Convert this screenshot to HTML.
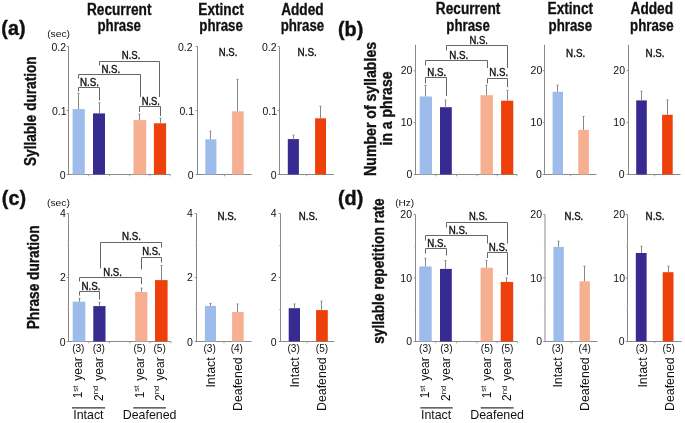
<!DOCTYPE html>
<html><head><meta charset="utf-8"><style>
html,body{margin:0;padding:0;background:#fff;}
svg{display:block;will-change:transform;}
text{font-family:"Liberation Sans",sans-serif;fill:#111;}
.ns{stroke:#111;stroke-width:0.38px;}
.tt{stroke:#111;stroke-width:0.3px;}
.yt{stroke:#111;stroke-width:0.35px;}
.pl{stroke:#111;stroke-width:0.4px;}
</style></head><body>
<svg width="685" height="423" viewBox="0 0 685 423">
<rect width="685" height="423" fill="#fff"/>
<text x="1.3" y="34.5" font-size="19.8" font-weight="bold" text-anchor="start" class="pl">(a)</text>
<text x="47.2" y="37" font-size="9.5" font-weight="normal" text-anchor="start" textLength="22.8" lengthAdjust="spacingAndGlyphs">(sec)</text>
<text x="36.1" y="111.2" font-size="16.5" font-weight="bold" text-anchor="middle" textLength="109.5" lengthAdjust="spacingAndGlyphs" transform="rotate(-90 36.1 111.2)" class="yt">Syllable duration</text>
<text x="119.2" y="14.5" font-size="15.6" font-weight="bold" text-anchor="middle" textLength="64.5" lengthAdjust="spacingAndGlyphs" class="tt">Recurrent</text>
<text x="119.2" y="30.900000000000002" font-size="15.6" font-weight="bold" text-anchor="middle" textLength="43.5" lengthAdjust="spacingAndGlyphs" class="tt">phrase</text>
<text x="221.1" y="14.5" font-size="15.6" font-weight="bold" text-anchor="middle" textLength="45.5" lengthAdjust="spacingAndGlyphs" class="tt">Extinct</text>
<text x="221.1" y="30.900000000000002" font-size="15.6" font-weight="bold" text-anchor="middle" textLength="43.5" lengthAdjust="spacingAndGlyphs" class="tt">phrase</text>
<text x="302.4" y="14.5" font-size="15.6" font-weight="bold" text-anchor="middle" textLength="42.5" lengthAdjust="spacingAndGlyphs" class="tt">Added</text>
<text x="302.4" y="30.900000000000002" font-size="15.6" font-weight="bold" text-anchor="middle" textLength="43.5" lengthAdjust="spacingAndGlyphs" class="tt">phrase</text>
<text x="468.1" y="14.2" font-size="15.6" font-weight="bold" text-anchor="middle" textLength="64.5" lengthAdjust="spacingAndGlyphs" class="tt">Recurrent</text>
<text x="468.1" y="30.6" font-size="15.6" font-weight="bold" text-anchor="middle" textLength="43.5" lengthAdjust="spacingAndGlyphs" class="tt">phrase</text>
<text x="570.3" y="14.2" font-size="15.6" font-weight="bold" text-anchor="middle" textLength="45.5" lengthAdjust="spacingAndGlyphs" class="tt">Extinct</text>
<text x="570.3" y="30.6" font-size="15.6" font-weight="bold" text-anchor="middle" textLength="43.5" lengthAdjust="spacingAndGlyphs" class="tt">phrase</text>
<text x="651.8" y="14.2" font-size="15.6" font-weight="bold" text-anchor="middle" textLength="42.5" lengthAdjust="spacingAndGlyphs" class="tt">Added</text>
<text x="651.8" y="30.6" font-size="15.6" font-weight="bold" text-anchor="middle" textLength="43.5" lengthAdjust="spacingAndGlyphs" class="tt">phrase</text>
<line x1="68.5" y1="46.5" x2="68.5" y2="175.0" stroke="#8a8a8a" stroke-width="1"/>
<line x1="68.0" y1="174.5" x2="170.5" y2="174.5" stroke="#8a8a8a" stroke-width="1"/>
<line x1="66.7" y1="46.5" x2="68.5" y2="46.5" stroke="#8a8a8a" stroke-width="1"/>
<line x1="66.7" y1="110.5" x2="68.5" y2="110.5" stroke="#8a8a8a" stroke-width="1"/>
<line x1="66.7" y1="174.5" x2="68.5" y2="174.5" stroke="#8a8a8a" stroke-width="1"/>
<line x1="88.8" y1="174.5" x2="88.8" y2="176.3" stroke="#a0a0a0" stroke-width="1"/>
<line x1="109.5" y1="174.5" x2="109.5" y2="176.3" stroke="#a0a0a0" stroke-width="1"/>
<line x1="129.8" y1="174.5" x2="129.8" y2="176.3" stroke="#a0a0a0" stroke-width="1"/>
<line x1="150" y1="174.5" x2="150" y2="176.3" stroke="#a0a0a0" stroke-width="1"/>
<line x1="170" y1="174.5" x2="170" y2="176.3" stroke="#a0a0a0" stroke-width="1"/>
<text x="66" y="50.9" font-size="10.5" font-weight="normal" text-anchor="end">0.2</text>
<text x="66.5" y="114.9" font-size="10.5" font-weight="normal" text-anchor="end">0.1</text>
<text x="65.5" y="178.9" font-size="10.5" font-weight="normal" text-anchor="end">0</text>
<rect x="72.6" y="109.1" width="12.20" height="65.40" fill="#9dbcec"/>
<line x1="78.5" y1="93.6" x2="78.5" y2="109.1" stroke="#888888" stroke-width="1"/>
<line x1="77.5" y1="93.6" x2="79.5" y2="93.6" stroke="#888888" stroke-width="1"/>
<rect x="93" y="113.4" width="12.00" height="61.10" fill="#372b91"/>
<line x1="99.5" y1="102.8" x2="99.5" y2="113.4" stroke="#888888" stroke-width="1"/>
<line x1="98.5" y1="102.8" x2="100.5" y2="102.8" stroke="#888888" stroke-width="1"/>
<rect x="133.5" y="120.1" width="12.70" height="54.40" fill="#f6af90"/>
<line x1="139.5" y1="114.1" x2="139.5" y2="120.1" stroke="#888888" stroke-width="1"/>
<line x1="138.5" y1="114.1" x2="140.5" y2="114.1" stroke="#888888" stroke-width="1"/>
<rect x="153.9" y="123.3" width="12.20" height="51.20" fill="#ee400a"/>
<line x1="160.5" y1="118.1" x2="160.5" y2="123.3" stroke="#888888" stroke-width="1"/>
<line x1="159.5" y1="118.1" x2="161.5" y2="118.1" stroke="#888888" stroke-width="1"/>
<polyline points="78.5,91.5 78.5,87.5 99.5,87.5 99.5,100.5" fill="none" stroke="#666666" stroke-width="1"/>
<polyline points="139.5,112 139.5,106.5 160.5,106.5 160.5,116" fill="none" stroke="#666666" stroke-width="1"/>
<polyline points="78.5,78.5 78.5,74.5 140.5,74.5 140.5,97" fill="none" stroke="#666666" stroke-width="1"/>
<polyline points="99.5,65.5 99.5,61.5 159.5,61.5 159.5,97" fill="none" stroke="#666666" stroke-width="1"/>
<text x="80.10000000000001" y="86" font-size="10.6" font-weight="normal" text-anchor="start" textLength="18.9" lengthAdjust="spacingAndGlyphs" class="ns">N.S.</text>
<text x="101.4" y="72.6" font-size="10.6" font-weight="normal" text-anchor="start" textLength="18.8" lengthAdjust="spacingAndGlyphs" class="ns">N.S.</text>
<text x="121.80000000000001" y="59" font-size="10.6" font-weight="normal" text-anchor="start" textLength="18.6" lengthAdjust="spacingAndGlyphs" class="ns">N.S.</text>
<text x="141.70000000000002" y="105.4" font-size="10.6" font-weight="normal" text-anchor="start" textLength="18.2" lengthAdjust="spacingAndGlyphs" class="ns">N.S.</text>
<line x1="197.5" y1="46.5" x2="197.5" y2="175.0" stroke="#8a8a8a" stroke-width="1"/>
<line x1="197.0" y1="174.5" x2="251.5" y2="174.5" stroke="#8a8a8a" stroke-width="1"/>
<line x1="195.7" y1="46.5" x2="197.5" y2="46.5" stroke="#8a8a8a" stroke-width="1"/>
<line x1="195.7" y1="110.5" x2="197.5" y2="110.5" stroke="#8a8a8a" stroke-width="1"/>
<line x1="195.7" y1="174.5" x2="197.5" y2="174.5" stroke="#8a8a8a" stroke-width="1"/>
<line x1="224.5" y1="174.5" x2="224.5" y2="176.3" stroke="#a0a0a0" stroke-width="1"/>
<text x="192.5" y="50.9" font-size="10.5" font-weight="normal" text-anchor="end">0.2</text>
<text x="194" y="114.9" font-size="10.5" font-weight="normal" text-anchor="end">0.1</text>
<text x="193.5" y="178.9" font-size="10.5" font-weight="normal" text-anchor="end">0</text>
<rect x="205.3" y="139.3" width="11.10" height="35.20" fill="#9dbcec"/>
<line x1="210.5" y1="131.2" x2="210.5" y2="139.3" stroke="#888888" stroke-width="1"/>
<line x1="209.5" y1="131.2" x2="211.5" y2="131.2" stroke="#888888" stroke-width="1"/>
<rect x="232.1" y="111.3" width="11.60" height="63.20" fill="#f6af90"/>
<line x1="237.5" y1="79.4" x2="237.5" y2="111.3" stroke="#888888" stroke-width="1"/>
<line x1="236.5" y1="79.4" x2="238.5" y2="79.4" stroke="#888888" stroke-width="1"/>
<text x="218.8" y="56" font-size="10.6" font-weight="normal" text-anchor="start" textLength="18.5" lengthAdjust="spacingAndGlyphs" class="ns">N.S.</text>
<line x1="279.5" y1="46.5" x2="279.5" y2="175.0" stroke="#8a8a8a" stroke-width="1"/>
<line x1="279.0" y1="174.5" x2="334" y2="174.5" stroke="#8a8a8a" stroke-width="1"/>
<line x1="277.7" y1="46.5" x2="279.5" y2="46.5" stroke="#8a8a8a" stroke-width="1"/>
<line x1="277.7" y1="110.5" x2="279.5" y2="110.5" stroke="#8a8a8a" stroke-width="1"/>
<line x1="277.7" y1="174.5" x2="279.5" y2="174.5" stroke="#8a8a8a" stroke-width="1"/>
<line x1="306.5" y1="174.5" x2="306.5" y2="176.3" stroke="#a0a0a0" stroke-width="1"/>
<text x="276.5" y="50.9" font-size="10.5" font-weight="normal" text-anchor="end">0.2</text>
<text x="277" y="114.9" font-size="10.5" font-weight="normal" text-anchor="end">0.1</text>
<text x="276.5" y="178.9" font-size="10.5" font-weight="normal" text-anchor="end">0</text>
<rect x="287.8" y="139.1" width="11.10" height="35.40" fill="#372b91"/>
<line x1="293.5" y1="135.1" x2="293.5" y2="139.1" stroke="#888888" stroke-width="1"/>
<line x1="292.5" y1="135.1" x2="294.5" y2="135.1" stroke="#888888" stroke-width="1"/>
<rect x="315.1" y="118.3" width="10.90" height="56.20" fill="#ee400a"/>
<line x1="320.5" y1="106.3" x2="320.5" y2="118.3" stroke="#888888" stroke-width="1"/>
<line x1="319.5" y1="106.3" x2="321.5" y2="106.3" stroke="#888888" stroke-width="1"/>
<text x="297.59999999999997" y="56" font-size="10.6" font-weight="normal" text-anchor="start" textLength="19.2" lengthAdjust="spacingAndGlyphs" class="ns">N.S.</text>
<text x="338" y="35.7" font-size="19.8" font-weight="bold" text-anchor="start" class="pl">(b)</text>
<text x="375.8" y="108.9" font-size="16.5" font-weight="bold" text-anchor="middle" textLength="134" lengthAdjust="spacingAndGlyphs" transform="rotate(-90 375.8 108.9)" class="yt">Number of syllables</text>
<text x="392.2" y="108.5" font-size="16.5" font-weight="bold" text-anchor="middle" textLength="74" lengthAdjust="spacingAndGlyphs" transform="rotate(-90 392.2 108.5)" class="yt">in a phrase</text>
<line x1="415.5" y1="44.8" x2="415.5" y2="175.0" stroke="#8a8a8a" stroke-width="1"/>
<line x1="415.0" y1="174.5" x2="517" y2="174.5" stroke="#8a8a8a" stroke-width="1"/>
<line x1="413.7" y1="174.5" x2="415.5" y2="174.5" stroke="#8a8a8a" stroke-width="1"/>
<line x1="413.7" y1="122.6" x2="415.5" y2="122.6" stroke="#8a8a8a" stroke-width="1"/>
<line x1="413.7" y1="70.7" x2="415.5" y2="70.7" stroke="#8a8a8a" stroke-width="1"/>
<line x1="435.7" y1="174.5" x2="435.7" y2="176.3" stroke="#a0a0a0" stroke-width="1"/>
<line x1="456.5" y1="174.5" x2="456.5" y2="176.3" stroke="#a0a0a0" stroke-width="1"/>
<line x1="476.8" y1="174.5" x2="476.8" y2="176.3" stroke="#a0a0a0" stroke-width="1"/>
<line x1="497.2" y1="174.5" x2="497.2" y2="176.3" stroke="#a0a0a0" stroke-width="1"/>
<line x1="517" y1="174.5" x2="517" y2="176.3" stroke="#a0a0a0" stroke-width="1"/>
<text x="412.4" y="73.8" font-size="10.5" font-weight="normal" text-anchor="end">20</text>
<text x="412.4" y="126.0" font-size="10.5" font-weight="normal" text-anchor="end">10</text>
<text x="412.4" y="178.1" font-size="10.5" font-weight="normal" text-anchor="end">0</text>
<rect x="419.7" y="96.5" width="12.30" height="78.00" fill="#9dbcec"/>
<line x1="425.5" y1="85.5" x2="425.5" y2="96.5" stroke="#888888" stroke-width="1"/>
<line x1="424.5" y1="85.5" x2="426.5" y2="85.5" stroke="#888888" stroke-width="1"/>
<rect x="440" y="107.2" width="11.80" height="67.30" fill="#372b91"/>
<line x1="445.5" y1="100.1" x2="445.5" y2="107.2" stroke="#888888" stroke-width="1"/>
<line x1="444.5" y1="100.1" x2="446.5" y2="100.1" stroke="#888888" stroke-width="1"/>
<rect x="480.5" y="95.2" width="12.40" height="79.30" fill="#f6af90"/>
<line x1="486.5" y1="85.3" x2="486.5" y2="95.2" stroke="#888888" stroke-width="1"/>
<line x1="485.5" y1="85.3" x2="487.5" y2="85.3" stroke="#888888" stroke-width="1"/>
<rect x="501.1" y="100.7" width="12.20" height="73.80" fill="#ee400a"/>
<line x1="507.5" y1="90.4" x2="507.5" y2="100.7" stroke="#888888" stroke-width="1"/>
<line x1="506.5" y1="90.4" x2="508.5" y2="90.4" stroke="#888888" stroke-width="1"/>
<polyline points="425.5,83.5 425.5,77.5 446.5,77.5 446.5,96" fill="none" stroke="#666666" stroke-width="1"/>
<polyline points="487.5,83.5 487.5,78.5 507.5,78.5 507.5,87.2" fill="none" stroke="#666666" stroke-width="1"/>
<polyline points="425.5,65.5 425.5,60.5 487.5,60.5 487.5,68" fill="none" stroke="#666666" stroke-width="1"/>
<polyline points="446.5,50.5 446.5,45.5 507.5,45.5 507.5,68" fill="none" stroke="#666666" stroke-width="1"/>
<text x="427.2" y="75.8" font-size="10.6" font-weight="normal" text-anchor="start" textLength="18.9" lengthAdjust="spacingAndGlyphs" class="ns">N.S.</text>
<text x="449.2" y="59" font-size="10.6" font-weight="normal" text-anchor="start" textLength="19.0" lengthAdjust="spacingAndGlyphs" class="ns">N.S.</text>
<text x="469.5" y="44.1" font-size="10.6" font-weight="normal" text-anchor="start" textLength="18.4" lengthAdjust="spacingAndGlyphs" class="ns">N.S.</text>
<text x="489.29999999999995" y="76.3" font-size="10.6" font-weight="normal" text-anchor="start" textLength="18.9" lengthAdjust="spacingAndGlyphs" class="ns">N.S.</text>
<line x1="544.5" y1="44.8" x2="544.5" y2="175.0" stroke="#8a8a8a" stroke-width="1"/>
<line x1="544.0" y1="174.5" x2="596.5" y2="174.5" stroke="#8a8a8a" stroke-width="1"/>
<line x1="542.7" y1="174.5" x2="544.5" y2="174.5" stroke="#8a8a8a" stroke-width="1"/>
<line x1="542.7" y1="122.6" x2="544.5" y2="122.6" stroke="#8a8a8a" stroke-width="1"/>
<line x1="542.7" y1="70.7" x2="544.5" y2="70.7" stroke="#8a8a8a" stroke-width="1"/>
<line x1="570.5" y1="174.5" x2="570.5" y2="176.3" stroke="#a0a0a0" stroke-width="1"/>
<text x="542.3" y="73.8" font-size="10.5" font-weight="normal" text-anchor="end">20</text>
<text x="542.3" y="126.0" font-size="10.5" font-weight="normal" text-anchor="end">10</text>
<text x="541.8" y="178.1" font-size="10.5" font-weight="normal" text-anchor="end">0</text>
<rect x="552.6" y="91.8" width="10.40" height="82.70" fill="#9dbcec"/>
<line x1="557.5" y1="85.2" x2="557.5" y2="91.8" stroke="#888888" stroke-width="1"/>
<line x1="556.5" y1="85.2" x2="558.5" y2="85.2" stroke="#888888" stroke-width="1"/>
<rect x="578.3" y="129.9" width="10.60" height="44.60" fill="#f6af90"/>
<line x1="583.5" y1="116.5" x2="583.5" y2="129.9" stroke="#888888" stroke-width="1"/>
<line x1="582.5" y1="116.5" x2="584.5" y2="116.5" stroke="#888888" stroke-width="1"/>
<text x="566.1" y="57.4" font-size="10.6" font-weight="normal" text-anchor="start" textLength="19.1" lengthAdjust="spacingAndGlyphs" class="ns">N.S.</text>
<line x1="628.5" y1="44.8" x2="628.5" y2="175.0" stroke="#8a8a8a" stroke-width="1"/>
<line x1="628.0" y1="174.5" x2="680.5" y2="174.5" stroke="#8a8a8a" stroke-width="1"/>
<line x1="626.7" y1="174.5" x2="628.5" y2="174.5" stroke="#8a8a8a" stroke-width="1"/>
<line x1="626.7" y1="122.6" x2="628.5" y2="122.6" stroke="#8a8a8a" stroke-width="1"/>
<line x1="626.7" y1="70.7" x2="628.5" y2="70.7" stroke="#8a8a8a" stroke-width="1"/>
<line x1="654.5" y1="174.5" x2="654.5" y2="176.3" stroke="#a0a0a0" stroke-width="1"/>
<text x="625" y="73.8" font-size="10.5" font-weight="normal" text-anchor="end">20</text>
<text x="625" y="126.0" font-size="10.5" font-weight="normal" text-anchor="end">10</text>
<text x="624.5" y="178.1" font-size="10.5" font-weight="normal" text-anchor="end">0</text>
<rect x="636.2" y="100.4" width="10.60" height="74.10" fill="#372b91"/>
<line x1="641.5" y1="91.1" x2="641.5" y2="100.4" stroke="#888888" stroke-width="1"/>
<line x1="640.5" y1="91.1" x2="642.5" y2="91.1" stroke="#888888" stroke-width="1"/>
<rect x="662.1" y="114.8" width="10.60" height="59.70" fill="#ee400a"/>
<line x1="667.5" y1="100" x2="667.5" y2="114.8" stroke="#888888" stroke-width="1"/>
<line x1="666.5" y1="100" x2="668.5" y2="100" stroke="#888888" stroke-width="1"/>
<text x="645.6" y="57.4" font-size="10.6" font-weight="normal" text-anchor="start" textLength="19.0" lengthAdjust="spacingAndGlyphs" class="ns">N.S.</text>
<text x="1.8" y="205" font-size="19.8" font-weight="bold" text-anchor="start" class="pl">(c)</text>
<text x="47" y="205.9" font-size="9.5" font-weight="normal" text-anchor="start" textLength="23" lengthAdjust="spacingAndGlyphs">(sec)</text>
<text x="38.6" y="277.3" font-size="16.5" font-weight="bold" text-anchor="middle" textLength="104" lengthAdjust="spacingAndGlyphs" transform="rotate(-90 38.6 277.3)" class="yt">Phrase duration</text>
<line x1="68.5" y1="213.5" x2="68.5" y2="342.0" stroke="#8a8a8a" stroke-width="1"/>
<line x1="68.0" y1="341.5" x2="171" y2="341.5" stroke="#8a8a8a" stroke-width="1"/>
<line x1="66.7" y1="213.5" x2="68.5" y2="213.5" stroke="#8a8a8a" stroke-width="1"/>
<line x1="66.7" y1="277.5" x2="68.5" y2="277.5" stroke="#8a8a8a" stroke-width="1"/>
<line x1="66.7" y1="341.5" x2="68.5" y2="341.5" stroke="#8a8a8a" stroke-width="1"/>
<line x1="67.3" y1="245.5" x2="68.5" y2="245.5" stroke="#b0b0b0" stroke-width="1"/>
<line x1="67.3" y1="309.5" x2="68.5" y2="309.5" stroke="#b0b0b0" stroke-width="1"/>
<line x1="88.8" y1="341.5" x2="88.8" y2="343.3" stroke="#a0a0a0" stroke-width="1"/>
<line x1="109.5" y1="341.5" x2="109.5" y2="343.3" stroke="#a0a0a0" stroke-width="1"/>
<line x1="129.8" y1="341.5" x2="129.8" y2="343.3" stroke="#a0a0a0" stroke-width="1"/>
<line x1="150" y1="341.5" x2="150" y2="343.3" stroke="#a0a0a0" stroke-width="1"/>
<line x1="171" y1="341.5" x2="171" y2="343.3" stroke="#a0a0a0" stroke-width="1"/>
<text x="65.8" y="217.4" font-size="10.5" font-weight="normal" text-anchor="end">4</text>
<text x="65.8" y="281.1" font-size="10.5" font-weight="normal" text-anchor="end">2</text>
<text x="65.5" y="345.5" font-size="10.5" font-weight="normal" text-anchor="end">0</text>
<rect x="72.7" y="301.7" width="12.60" height="39.80" fill="#9dbcec"/>
<line x1="79.5" y1="298.3" x2="79.5" y2="301.7" stroke="#888888" stroke-width="1"/>
<line x1="78.5" y1="298.3" x2="80.5" y2="298.3" stroke="#888888" stroke-width="1"/>
<rect x="93.3" y="306.1" width="12.20" height="35.40" fill="#372b91"/>
<line x1="99.5" y1="302.3" x2="99.5" y2="306.1" stroke="#888888" stroke-width="1"/>
<line x1="98.5" y1="302.3" x2="100.5" y2="302.3" stroke="#888888" stroke-width="1"/>
<rect x="135.2" y="291.9" width="12.20" height="49.60" fill="#f6af90"/>
<line x1="141.5" y1="288.1" x2="141.5" y2="291.9" stroke="#888888" stroke-width="1"/>
<line x1="140.5" y1="288.1" x2="142.5" y2="288.1" stroke="#888888" stroke-width="1"/>
<rect x="155" y="280.1" width="12.60" height="61.40" fill="#ee400a"/>
<line x1="161.5" y1="265.5" x2="161.5" y2="280.1" stroke="#888888" stroke-width="1"/>
<line x1="160.5" y1="265.5" x2="162.5" y2="265.5" stroke="#888888" stroke-width="1"/>
<polyline points="79.5,295.5 79.5,291.5 99.5,291.5 99.5,299.5" fill="none" stroke="#666666" stroke-width="1"/>
<polyline points="141.5,269.5 141.5,257.5 161.5,257.5 161.5,262.5" fill="none" stroke="#666666" stroke-width="1"/>
<polyline points="79.5,281.5 79.5,277.5 141.5,277.5 141.5,284" fill="none" stroke="#666666" stroke-width="1"/>
<polyline points="100.5,268.5 100.5,242.5 161.5,242.5 161.5,247.5" fill="none" stroke="#666666" stroke-width="1"/>
<text x="81.4" y="289.5" font-size="10.6" font-weight="normal" text-anchor="start" textLength="19.0" lengthAdjust="spacingAndGlyphs" class="ns">N.S.</text>
<text x="103.30000000000001" y="276.3" font-size="10.6" font-weight="normal" text-anchor="start" textLength="18.6" lengthAdjust="spacingAndGlyphs" class="ns">N.S.</text>
<text x="122.0" y="240.4" font-size="10.6" font-weight="normal" text-anchor="start" textLength="18.9" lengthAdjust="spacingAndGlyphs" class="ns">N.S.</text>
<text x="142.20000000000002" y="254.8" font-size="10.6" font-weight="normal" text-anchor="start" textLength="18.4" lengthAdjust="spacingAndGlyphs" class="ns">N.S.</text>
<line x1="196.5" y1="213.5" x2="196.5" y2="342.0" stroke="#8a8a8a" stroke-width="1"/>
<line x1="196.0" y1="341.5" x2="251.5" y2="341.5" stroke="#8a8a8a" stroke-width="1"/>
<line x1="194.7" y1="213.5" x2="196.5" y2="213.5" stroke="#8a8a8a" stroke-width="1"/>
<line x1="194.7" y1="277.5" x2="196.5" y2="277.5" stroke="#8a8a8a" stroke-width="1"/>
<line x1="194.7" y1="341.5" x2="196.5" y2="341.5" stroke="#8a8a8a" stroke-width="1"/>
<line x1="195.3" y1="245.5" x2="196.5" y2="245.5" stroke="#b0b0b0" stroke-width="1"/>
<line x1="195.3" y1="309.5" x2="196.5" y2="309.5" stroke="#b0b0b0" stroke-width="1"/>
<line x1="224" y1="341.5" x2="224" y2="343.3" stroke="#a0a0a0" stroke-width="1"/>
<text x="192.8" y="217.4" font-size="10.5" font-weight="normal" text-anchor="end">4</text>
<text x="192.8" y="281.1" font-size="10.5" font-weight="normal" text-anchor="end">2</text>
<text x="192.8" y="345.5" font-size="10.5" font-weight="normal" text-anchor="end">0</text>
<rect x="204.9" y="305.9" width="11.10" height="35.60" fill="#9dbcec"/>
<line x1="210.5" y1="303.5" x2="210.5" y2="305.9" stroke="#888888" stroke-width="1"/>
<line x1="209.5" y1="303.5" x2="211.5" y2="303.5" stroke="#888888" stroke-width="1"/>
<rect x="232.1" y="312" width="11.60" height="29.50" fill="#f6af90"/>
<line x1="237.5" y1="304" x2="237.5" y2="312" stroke="#888888" stroke-width="1"/>
<line x1="236.5" y1="304" x2="238.5" y2="304" stroke="#888888" stroke-width="1"/>
<text x="217.5" y="219.9" font-size="10.6" font-weight="normal" text-anchor="start" textLength="19.0" lengthAdjust="spacingAndGlyphs" class="ns">N.S.</text>
<line x1="280.5" y1="213.5" x2="280.5" y2="342.0" stroke="#8a8a8a" stroke-width="1"/>
<line x1="280.0" y1="341.5" x2="334.5" y2="341.5" stroke="#8a8a8a" stroke-width="1"/>
<line x1="278.7" y1="213.5" x2="280.5" y2="213.5" stroke="#8a8a8a" stroke-width="1"/>
<line x1="278.7" y1="277.5" x2="280.5" y2="277.5" stroke="#8a8a8a" stroke-width="1"/>
<line x1="278.7" y1="341.5" x2="280.5" y2="341.5" stroke="#8a8a8a" stroke-width="1"/>
<line x1="279.3" y1="245.5" x2="280.5" y2="245.5" stroke="#b0b0b0" stroke-width="1"/>
<line x1="279.3" y1="309.5" x2="280.5" y2="309.5" stroke="#b0b0b0" stroke-width="1"/>
<line x1="307" y1="341.5" x2="307" y2="343.3" stroke="#a0a0a0" stroke-width="1"/>
<text x="276.6" y="217.4" font-size="10.5" font-weight="normal" text-anchor="end">4</text>
<text x="276.6" y="281.1" font-size="10.5" font-weight="normal" text-anchor="end">2</text>
<text x="276.6" y="345.5" font-size="10.5" font-weight="normal" text-anchor="end">0</text>
<rect x="288.7" y="308.2" width="11.30" height="33.30" fill="#372b91"/>
<line x1="294.5" y1="304" x2="294.5" y2="308.2" stroke="#888888" stroke-width="1"/>
<line x1="293.5" y1="304" x2="295.5" y2="304" stroke="#888888" stroke-width="1"/>
<rect x="316.1" y="310.1" width="11.70" height="31.40" fill="#ee400a"/>
<line x1="321.5" y1="301.2" x2="321.5" y2="310.1" stroke="#888888" stroke-width="1"/>
<line x1="320.5" y1="301.2" x2="322.5" y2="301.2" stroke="#888888" stroke-width="1"/>
<text x="298.79999999999995" y="219.9" font-size="10.6" font-weight="normal" text-anchor="start" textLength="18.8" lengthAdjust="spacingAndGlyphs" class="ns">N.S.</text>
<text x="338" y="205.4" font-size="19.8" font-weight="bold" text-anchor="start" class="pl">(d)</text>
<text x="395.2" y="205.6" font-size="9.5" font-weight="normal" text-anchor="start" textLength="19" lengthAdjust="spacingAndGlyphs">(Hz)</text>
<text x="384.4" y="271" font-size="16" font-weight="bold" text-anchor="middle" textLength="145.5" lengthAdjust="spacingAndGlyphs" transform="rotate(-90 384.4 271)" class="yt">syllable repetition rate</text>
<line x1="415.5" y1="214.5" x2="415.5" y2="342.0" stroke="#8a8a8a" stroke-width="1"/>
<line x1="415.0" y1="341.5" x2="517.5" y2="341.5" stroke="#8a8a8a" stroke-width="1"/>
<line x1="413.7" y1="214.5" x2="415.5" y2="214.5" stroke="#8a8a8a" stroke-width="1"/>
<line x1="413.7" y1="278" x2="415.5" y2="278" stroke="#8a8a8a" stroke-width="1"/>
<line x1="413.7" y1="341.5" x2="415.5" y2="341.5" stroke="#8a8a8a" stroke-width="1"/>
<line x1="414.3" y1="246.3" x2="415.5" y2="246.3" stroke="#b0b0b0" stroke-width="1"/>
<line x1="414.3" y1="309.8" x2="415.5" y2="309.8" stroke="#b0b0b0" stroke-width="1"/>
<line x1="435.7" y1="341.5" x2="435.7" y2="343.3" stroke="#a0a0a0" stroke-width="1"/>
<line x1="456.5" y1="341.5" x2="456.5" y2="343.3" stroke="#a0a0a0" stroke-width="1"/>
<line x1="476.8" y1="341.5" x2="476.8" y2="343.3" stroke="#a0a0a0" stroke-width="1"/>
<line x1="497.2" y1="341.5" x2="497.2" y2="343.3" stroke="#a0a0a0" stroke-width="1"/>
<line x1="517.5" y1="341.5" x2="517.5" y2="343.3" stroke="#a0a0a0" stroke-width="1"/>
<text x="412" y="218.4" font-size="10.5" font-weight="normal" text-anchor="end">20</text>
<text x="412" y="281.7" font-size="10.5" font-weight="normal" text-anchor="end">10</text>
<text x="412" y="345.3" font-size="10.5" font-weight="normal" text-anchor="end">0</text>
<rect x="419.2" y="266.5" width="12.50" height="75.00" fill="#9dbcec"/>
<line x1="425.5" y1="258.3" x2="425.5" y2="266.5" stroke="#888888" stroke-width="1"/>
<line x1="424.5" y1="258.3" x2="426.5" y2="258.3" stroke="#888888" stroke-width="1"/>
<rect x="440" y="268.9" width="11.80" height="72.60" fill="#372b91"/>
<line x1="445.5" y1="260.6" x2="445.5" y2="268.9" stroke="#888888" stroke-width="1"/>
<line x1="444.5" y1="260.6" x2="446.5" y2="260.6" stroke="#888888" stroke-width="1"/>
<rect x="480.6" y="267.7" width="12.30" height="73.80" fill="#f6af90"/>
<line x1="486.5" y1="260.6" x2="486.5" y2="267.7" stroke="#888888" stroke-width="1"/>
<line x1="485.5" y1="260.6" x2="487.5" y2="260.6" stroke="#888888" stroke-width="1"/>
<rect x="500.7" y="281.9" width="12.50" height="59.60" fill="#ee400a"/>
<line x1="506.5" y1="277.9" x2="506.5" y2="281.9" stroke="#888888" stroke-width="1"/>
<line x1="505.5" y1="277.9" x2="507.5" y2="277.9" stroke="#888888" stroke-width="1"/>
<polyline points="425.5,253.5 425.5,248.5 446.5,248.5 446.5,255.5" fill="none" stroke="#666666" stroke-width="1"/>
<polyline points="487.5,258 487.5,252.5 507.5,252.5 507.5,275" fill="none" stroke="#666666" stroke-width="1"/>
<polyline points="425.5,240.5 425.5,235.5 487.5,235.5 487.5,243.5" fill="none" stroke="#666666" stroke-width="1"/>
<polyline points="446.5,227.5 446.5,222.5 507.5,222.5 507.5,243.5" fill="none" stroke="#666666" stroke-width="1"/>
<text x="427.2" y="247.2" font-size="10.6" font-weight="normal" text-anchor="start" textLength="18.9" lengthAdjust="spacingAndGlyphs" class="ns">N.S.</text>
<text x="448.79999999999995" y="233.9" font-size="10.6" font-weight="normal" text-anchor="start" textLength="18.9" lengthAdjust="spacingAndGlyphs" class="ns">N.S.</text>
<text x="469.0" y="220.2" font-size="10.6" font-weight="normal" text-anchor="start" textLength="18.4" lengthAdjust="spacingAndGlyphs" class="ns">N.S.</text>
<text x="488.79999999999995" y="251" font-size="10.6" font-weight="normal" text-anchor="start" textLength="18.9" lengthAdjust="spacingAndGlyphs" class="ns">N.S.</text>
<line x1="545" y1="214.5" x2="545" y2="342.0" stroke="#8a8a8a" stroke-width="1"/>
<line x1="544.5" y1="341.5" x2="597.5" y2="341.5" stroke="#8a8a8a" stroke-width="1"/>
<line x1="543.2" y1="214.5" x2="545" y2="214.5" stroke="#8a8a8a" stroke-width="1"/>
<line x1="543.2" y1="278" x2="545" y2="278" stroke="#8a8a8a" stroke-width="1"/>
<line x1="543.2" y1="341.5" x2="545" y2="341.5" stroke="#8a8a8a" stroke-width="1"/>
<line x1="543.8" y1="246.3" x2="545" y2="246.3" stroke="#b0b0b0" stroke-width="1"/>
<line x1="543.8" y1="309.8" x2="545" y2="309.8" stroke="#b0b0b0" stroke-width="1"/>
<line x1="571.3" y1="341.5" x2="571.3" y2="343.3" stroke="#a0a0a0" stroke-width="1"/>
<text x="542" y="218.4" font-size="10.5" font-weight="normal" text-anchor="end">20</text>
<text x="542" y="281.7" font-size="10.5" font-weight="normal" text-anchor="end">10</text>
<text x="542" y="345.3" font-size="10.5" font-weight="normal" text-anchor="end">0</text>
<rect x="553.4" y="246.9" width="10.40" height="94.60" fill="#9dbcec"/>
<line x1="558.5" y1="241.2" x2="558.5" y2="246.9" stroke="#888888" stroke-width="1"/>
<line x1="557.5" y1="241.2" x2="559.5" y2="241.2" stroke="#888888" stroke-width="1"/>
<rect x="579.5" y="281.3" width="10.40" height="60.20" fill="#f6af90"/>
<line x1="584.5" y1="266.2" x2="584.5" y2="281.3" stroke="#888888" stroke-width="1"/>
<line x1="583.5" y1="266.2" x2="585.5" y2="266.2" stroke="#888888" stroke-width="1"/>
<text x="564.6" y="219.9" font-size="10.6" font-weight="normal" text-anchor="start" textLength="18.7" lengthAdjust="spacingAndGlyphs" class="ns">N.S.</text>
<line x1="627.5" y1="214.5" x2="627.5" y2="342.0" stroke="#8a8a8a" stroke-width="1"/>
<line x1="627.0" y1="341.5" x2="681.5" y2="341.5" stroke="#8a8a8a" stroke-width="1"/>
<line x1="625.7" y1="214.5" x2="627.5" y2="214.5" stroke="#8a8a8a" stroke-width="1"/>
<line x1="625.7" y1="278" x2="627.5" y2="278" stroke="#8a8a8a" stroke-width="1"/>
<line x1="625.7" y1="341.5" x2="627.5" y2="341.5" stroke="#8a8a8a" stroke-width="1"/>
<line x1="626.3" y1="246.3" x2="627.5" y2="246.3" stroke="#b0b0b0" stroke-width="1"/>
<line x1="626.3" y1="309.8" x2="627.5" y2="309.8" stroke="#b0b0b0" stroke-width="1"/>
<line x1="654.7" y1="341.5" x2="654.7" y2="343.3" stroke="#a0a0a0" stroke-width="1"/>
<text x="625" y="218.4" font-size="10.5" font-weight="normal" text-anchor="end">20</text>
<text x="625" y="281.7" font-size="10.5" font-weight="normal" text-anchor="end">10</text>
<text x="624.5" y="345.3" font-size="10.5" font-weight="normal" text-anchor="end">0</text>
<rect x="635.8" y="253" width="10.80" height="88.50" fill="#372b91"/>
<line x1="641.5" y1="246.3" x2="641.5" y2="253" stroke="#888888" stroke-width="1"/>
<line x1="640.5" y1="246.3" x2="642.5" y2="246.3" stroke="#888888" stroke-width="1"/>
<rect x="662.7" y="272.2" width="10.80" height="69.30" fill="#ee400a"/>
<line x1="668.5" y1="266.2" x2="668.5" y2="272.2" stroke="#888888" stroke-width="1"/>
<line x1="667.5" y1="266.2" x2="669.5" y2="266.2" stroke="#888888" stroke-width="1"/>
<text x="645.6" y="219.9" font-size="10.6" font-weight="normal" text-anchor="start" textLength="19.0" lengthAdjust="spacingAndGlyphs" class="ns">N.S.</text>
<text x="78.3" y="351.6" font-size="10.1" font-weight="normal" text-anchor="middle">(3)</text>
<text x="98.8" y="351.6" font-size="10.1" font-weight="normal" text-anchor="middle">(3)</text>
<text x="139.6" y="351.6" font-size="10.1" font-weight="normal" text-anchor="middle">(5)</text>
<text x="159.6" y="351.6" font-size="10.1" font-weight="normal" text-anchor="middle">(5)</text>
<text x="82.3" y="357.3" font-size="12" text-anchor="end" transform="rotate(-90 82.3 357.3)">1<tspan font-size="7.8" dy="-4.6">st</tspan><tspan dy="4.6" dx="1.6"> year</tspan></text>
<text x="102.8" y="357.3" font-size="12" text-anchor="end" transform="rotate(-90 102.8 357.3)">2<tspan font-size="7.8" dy="-4.6">nd</tspan><tspan dy="4.6" dx="1.6"> year</tspan></text>
<text x="143.6" y="357.3" font-size="12" text-anchor="end" transform="rotate(-90 143.6 357.3)">1<tspan font-size="7.8" dy="-4.6">st</tspan><tspan dy="4.6" dx="1.6"> year</tspan></text>
<text x="163.6" y="357.3" font-size="12" text-anchor="end" transform="rotate(-90 163.6 357.3)">2<tspan font-size="7.8" dy="-4.6">nd</tspan><tspan dy="4.6" dx="1.6"> year</tspan></text>
<line x1="72.0" y1="407.8" x2="105.1" y2="407.8" stroke="#333" stroke-width="1.2"/>
<text x="88.4" y="419" font-size="12.4" font-weight="normal" text-anchor="middle">Intact</text>
<line x1="133.29999999999998" y1="407.8" x2="165.9" y2="407.8" stroke="#333" stroke-width="1.2"/>
<text x="149.6" y="419" font-size="12.4" font-weight="normal" text-anchor="middle">Deafened</text>
<text x="425.2" y="351.6" font-size="10.1" font-weight="normal" text-anchor="middle">(3)</text>
<text x="446.4" y="351.6" font-size="10.1" font-weight="normal" text-anchor="middle">(3)</text>
<text x="487" y="351.6" font-size="10.1" font-weight="normal" text-anchor="middle">(5)</text>
<text x="507.3" y="351.6" font-size="10.1" font-weight="normal" text-anchor="middle">(5)</text>
<text x="429.2" y="357.3" font-size="12" text-anchor="end" transform="rotate(-90 429.2 357.3)">1<tspan font-size="7.8" dy="-4.6">st</tspan><tspan dy="4.6" dx="1.6"> year</tspan></text>
<text x="450.4" y="357.3" font-size="12" text-anchor="end" transform="rotate(-90 450.4 357.3)">2<tspan font-size="7.8" dy="-4.6">nd</tspan><tspan dy="4.6" dx="1.6"> year</tspan></text>
<text x="491" y="357.3" font-size="12" text-anchor="end" transform="rotate(-90 491 357.3)">1<tspan font-size="7.8" dy="-4.6">st</tspan><tspan dy="4.6" dx="1.6"> year</tspan></text>
<text x="511.3" y="357.3" font-size="12" text-anchor="end" transform="rotate(-90 511.3 357.3)">2<tspan font-size="7.8" dy="-4.6">nd</tspan><tspan dy="4.6" dx="1.6"> year</tspan></text>
<line x1="420.3" y1="407.8" x2="452.7" y2="407.8" stroke="#333" stroke-width="1.2"/>
<text x="436.1" y="419" font-size="12.4" font-weight="normal" text-anchor="middle">Intact</text>
<line x1="480.7" y1="407.8" x2="513.6" y2="407.8" stroke="#333" stroke-width="1.2"/>
<text x="497.15" y="419" font-size="12.4" font-weight="normal" text-anchor="middle">Deafened</text>
<text x="209.6" y="351.6" font-size="10.1" font-weight="normal" text-anchor="middle">(3)</text>
<text x="236.8" y="351.6" font-size="10.1" font-weight="normal" text-anchor="middle">(4)</text>
<text x="214.8" y="357.3" font-size="12.4" font-weight="normal" text-anchor="end" transform="rotate(-90 214.8 357.3)">Intact</text>
<text x="241.8" y="357.3" font-size="12.4" font-weight="normal" text-anchor="end" transform="rotate(-90 241.8 357.3)">Deafened</text>
<text x="293.6" y="351.6" font-size="10.1" font-weight="normal" text-anchor="middle">(3)</text>
<text x="322" y="351.6" font-size="10.1" font-weight="normal" text-anchor="middle">(5)</text>
<text x="298.6" y="357.3" font-size="12.4" font-weight="normal" text-anchor="end" transform="rotate(-90 298.6 357.3)">Intact</text>
<text x="326.3" y="357.3" font-size="12.4" font-weight="normal" text-anchor="end" transform="rotate(-90 326.3 357.3)">Deafened</text>
<text x="557.8" y="351.6" font-size="10.1" font-weight="normal" text-anchor="middle">(3)</text>
<text x="584.7" y="351.6" font-size="10.1" font-weight="normal" text-anchor="middle">(4)</text>
<text x="562.1" y="357.3" font-size="12.4" font-weight="normal" text-anchor="end" transform="rotate(-90 562.1 357.3)">Intact</text>
<text x="589" y="357.3" font-size="12.4" font-weight="normal" text-anchor="end" transform="rotate(-90 589 357.3)">Deafened</text>
<text x="641.8" y="351.6" font-size="10.1" font-weight="normal" text-anchor="middle">(3)</text>
<text x="668.7" y="351.6" font-size="10.1" font-weight="normal" text-anchor="middle">(5)</text>
<text x="646.9" y="357.3" font-size="12.4" font-weight="normal" text-anchor="end" transform="rotate(-90 646.9 357.3)">Intact</text>
<text x="673.8" y="357.3" font-size="12.4" font-weight="normal" text-anchor="end" transform="rotate(-90 673.8 357.3)">Deafened</text>
</svg>
</body></html>
